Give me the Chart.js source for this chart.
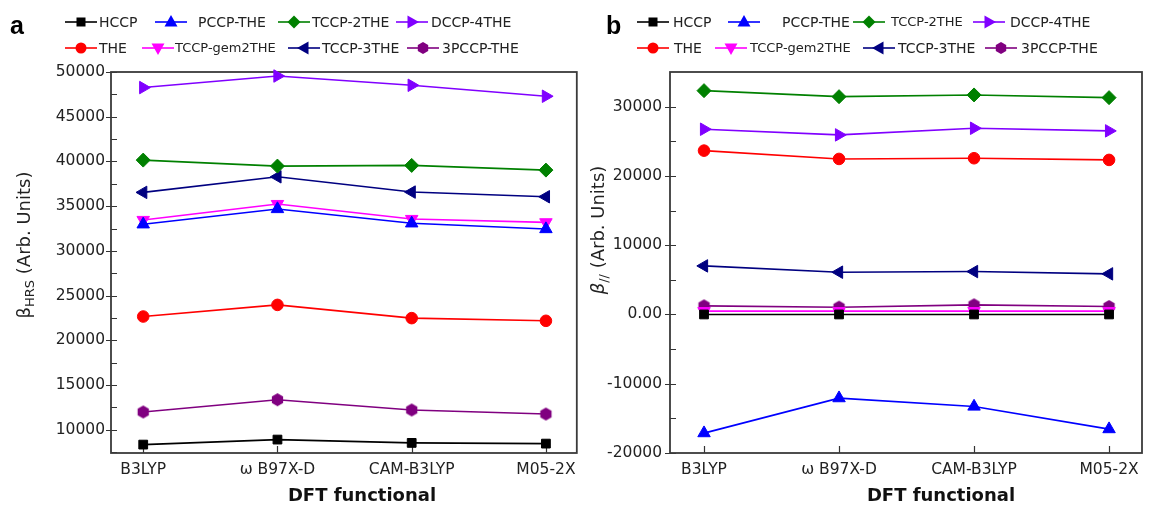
<!DOCTYPE html>
<html>
<head>
<meta charset="utf-8">
<script src="https://cdn.jsdelivr.net/npm/chart.js@4.4.1/dist/chart.umd.min.js"></script>
<style>
  body { margin: 0; width: 1151px; height: 507px; overflow: hidden; background: #fff;
         font-family: "DejaVu Sans", Verdana, sans-serif; color: #222; position: relative; }
  .panel { position: absolute; top: 0; height: 507px; }
  .tag { position: absolute; font-family: "Liberation Sans", Arial, sans-serif; font-weight: bold; font-size: 25px; line-height: 28px; color: #000; }
  .ytitle { position: absolute; white-space: nowrap; font-size: 18px; line-height: 20px; transform: translate(-50%, -50%) rotate(-90deg); }
  .ytitle sub { font-size: 13px; }
  .xtitle { position: absolute; font-weight: bold; font-size: 18px; transform: translateX(-50%); white-space: nowrap; color: #111; }
  .leg { position: absolute; font-size: 14px; line-height: 18px; white-space: nowrap; }
  .leg.small { font-size: 13px; }
  .legline { position: absolute; }
</style>
</head>
<body>
<div class="panel" style="left:0;width:585px"><canvas id="chartA" width="585" height="507"></canvas></div>
<div class="panel" style="left:585px;width:566px"><canvas id="chartB" width="566" height="507"></canvas></div>

<div class="tag" style="left:10px;top:11px">a</div>
<div class="tag" style="left:606px;top:11px">b</div>
<div class="ytitle" style="left:27px;top:245px">β<sub>HRS</sub> (Arb. Units)</div>
<div class="ytitle" style="left:601px;top:230px"><i>β</i><sub>//</sub> (Arb. Units)</div>
<div class="xtitle" style="left:362px;top:484px">DFT functional</div>
<div class="xtitle" style="left:941px;top:484px">DFT functional</div>
<div id="legends"></div>

<script>
// categories
const functionals = ['B3LYP', 'ω B97X-D', 'CAM-B3LYP', 'M05-2X'];

// series names / colours / marker shapes
const seriesNames = ['HCCP', 'PCCP-THE', 'TCCP-2THE', 'DCCP-4THE', 'THE', 'TCCP-gem2THE', 'TCCP-3THE', '3PCCP-THE'];
const seriesColors = ['#000000', '#0000ff', '#008000', '#8000ff', '#ff0000', '#ff00ff', '#000080', '#800080'];
const seriesShapes = ['square', 'up', 'diamond', 'right', 'circle', 'down', 'left', 'hexagon'];

// panel a: beta HRS
const hrsHCCP = [8340, 8900, 8530, 8450];
const hrsPCCP = [32970, 34680, 33080, 32440];
const hrsTCCP2 = [40150, 39480, 39555, 39030];
const hrsDCCP4 = [48260, 49550, 48515, 47290];
const hrsTHE = [22660, 23960, 22480, 22180];
const hrsGem2 = [33450, 35235, 33560, 33190];
const hrsTCCP3 = [36540, 38280, 36575, 36050];
const hrs3PCCP = [11990, 13360, 12210, 11760];

// panel b: beta parallel
const parHCCP = [0, 0, 0, 0];
const parPCCP = [-17130, -12080, -13290, -16550];
const parTCCP2 = [32310, 31440, 31690, 31300];
const parDCCP4 = [26740, 25920, 26880, 26500];
const parTHE = [23650, 22450, 22550, 22310];
const parGem2 = [480, 480, 480, 480];
const parTCCP3 = [7010, 6100, 6190, 5860];
const par3PCCP = [1240, 1050, 1390, 1140];

// tick labels
const hrsTicks = [10000, 15000, 20000, 25000, 30000, 35000, 40000, 45000, 50000];
const hrsMinor = [7500, 12500, 17500, 22500, 27500, 32500, 37500, 42500, 47500];
const parTicks = [-20000, -10000, 0, 10000, 20000, 30000];
const parTickLabels = ['-20000', '-10000', '0.00', '10000', '20000', '30000'];
const parMinor = [-15000, -5000, 5000, 15000, 25000];

function hexagon(color, r) {
    const c = document.createElement('canvas');
    c.width = c.height = 2 * r + 2;
    const g = c.getContext('2d');
    g.fillStyle = color;
    g.beginPath();
    for (let k = 0; k < 6; k++) {
        const a = Math.PI / 3 * k - Math.PI / 2;
        const px = r + 1 + r * Math.cos(a), py = r + 1 + r * Math.sin(a);
        if (k) g.lineTo(px, py); else g.moveTo(px, py);
    }
    g.closePath();
    g.fill();
    return c;
}

// chart.js point style for each marker shape
function pointOpts(shape, color) {
    switch (shape) {
        case 'square': return { pointStyle: 'rect', pointRadius: 6.2, pointRotation: 0 };
        case 'up': return { pointStyle: 'triangle', pointRadius: 7.2, pointRotation: 0 };
        case 'diamond': return { pointStyle: 'rectRot', pointRadius: 7, pointRotation: 0 };
        case 'right': return { pointStyle: 'triangle', pointRadius: 7.2, pointRotation: 90 };
        case 'circle': return { pointStyle: 'circle', pointRadius: 5.8, pointRotation: 0 };
        case 'down': return { pointStyle: 'triangle', pointRadius: 7.2, pointRotation: 180 };
        case 'left': return { pointStyle: 'triangle', pointRadius: 7.2, pointRotation: 270 };
        case 'hexagon': return { pointStyle: hexagon(color, 6.5), pointRadius: 6.5, pointRotation: 0 };
    }
}

function makeDatasets(valueLists) {
    return valueLists.map((vals, s) => Object.assign({
        label: seriesNames[s],
        data: vals.map((v, i) => ({ x: i, y: v })),
        borderColor: seriesColors[s],
        backgroundColor: seriesColors[s],
        pointBackgroundColor: seriesColors[s],
        pointBorderColor: seriesColors[s],
        pointBorderWidth: 1,
        borderWidth: 1.6,
        tension: 0,
        clip: false
    }, pointOpts(seriesShapes[s], seriesColors[s])));
}

// frame + inward tick marks
const framePlugin = {
    id: 'frame',
    beforeDatasetsDraw(chart, args, opts) {
        const { ctx, chartArea: a, scales } = chart;
        ctx.save();
        ctx.strokeStyle = '#333';
        ctx.lineWidth = 1.2;
        ctx.beginPath();
        opts.major.forEach(v => {
            const y = Math.round(scales.y.getPixelForValue(v)) + 0.5;
            ctx.moveTo(a.left - 5, y); ctx.lineTo(a.left + 6, y);
        });
        opts.minor.forEach(v => {
            const y = Math.round(scales.y.getPixelForValue(v)) + 0.5;
            ctx.moveTo(a.left, y); ctx.lineTo(a.left + 6, y);
        });
        functionals.forEach((f, i) => {
            const x = Math.round(scales.x.getPixelForValue(i)) + 0.5;
            ctx.moveTo(x, a.bottom); ctx.lineTo(x, a.bottom - 7);
        });
        ctx.stroke();
        ctx.lineWidth = 1.8;
        ctx.strokeStyle = '#3a3a3a';
        ctx.strokeRect(a.left, a.top, a.right - a.left, a.bottom - a.top);
        ctx.restore();
    }
};

function makeChart(id, datasets, cfg) {
    return new Chart(document.getElementById(id).getContext('2d'), {
        type: 'line',
        data: { datasets: datasets },
        plugins: [framePlugin],
        options: {
            responsive: false,
            animation: false,
            layout: { padding: { top: cfg.top, right: cfg.right, left: 0, bottom: 0 } },
            plugins: {
                legend: { display: false },
                tooltip: { enabled: false },
                frame: { major: cfg.ticks, minor: cfg.minor }
            },
            scales: {
                x: {
                    type: 'linear',
                    min: cfg.xMin,
                    max: cfg.xMax,
                    grid: { display: false, drawTicks: false },
                    border: { display: false },
                    afterBuildTicks: s => { s.ticks = functionals.map((f, i) => ({ value: i })); },
                    ticks: { padding: 8, color: '#222', font: { size: 15.5, family: '"DejaVu Sans"' },
                             maxRotation: 0, autoSkip: false, callback: v => functionals[v] },
                    afterFit: s => { s.height = 54; }
                },
                y: {
                    min: cfg.yMin,
                    max: cfg.yMax,
                    grid: { display: false, drawTicks: false },
                    border: { display: false },
                    afterBuildTicks: s => { s.ticks = cfg.ticks.map(v => ({ value: v })); },
                    ticks: { padding: cfg.pad, color: '#222', font: { size: 15.5, family: '"DejaVu Sans"' },
                             callback: (v, i) => cfg.labels[i] },
                    afterFit: s => { s.width = cfg.left; }
                }
            }
        }
    });
}

makeChart('chartA',
    makeDatasets([hrsHCCP, hrsPCCP, hrsTCCP2, hrsDCCP4, hrsTHE, hrsGem2, hrsTCCP3, hrs3PCCP]),
    { top: 72, right: 7, left: 111, pad: 6, xMin: -0.24, xMax: 3.23, yMin: 7400, yMax: 50000,
      ticks: hrsTicks, labels: hrsTicks.map(String), minor: hrsMinor });

makeChart('chartB',
    makeDatasets([parHCCP, parPCCP, parTCCP2, parDCCP4, parTHE, parGem2, parTCCP3, par3PCCP]),
    { top: 72, right: 9, left: 85, pad: 8, xMin: -0.252, xMax: 3.244, yMin: -20000, yMax: 35000,
      ticks: parTicks, labels: parTickLabels, minor: parMinor });

// legends (html, line + marker + name)
function markerSvg(shape, color) {
    const c = 16, r = 6;
    let m;
    switch (shape) {
        case 'square': m = `<rect x="${c - 4.5}" y="${8 - 4.5}" width="9" height="9" fill="${color}"/>`; break;
        case 'circle': m = `<circle cx="${c}" cy="8" r="5.5" fill="${color}"/>`; break;
        case 'diamond': m = `<polygon points="${c},1.5 ${c + 6.5},8 ${c},14.5 ${c - 6.5},8" fill="${color}"/>`; break;
        case 'up': m = `<polygon points="${c},1 ${c + 6.5},12.5 ${c - 6.5},12.5" fill="${color}"/>`; break;
        case 'down': m = `<polygon points="${c},15 ${c + 6.5},3.5 ${c - 6.5},3.5" fill="${color}"/>`; break;
        case 'right': m = `<polygon points="${c + 7},8 ${c - 4.5},1.5 ${c - 4.5},14.5" fill="${color}"/>`; break;
        case 'left': m = `<polygon points="${c - 7},8 ${c + 4.5},1.5 ${c + 4.5},14.5" fill="${color}"/>`; break;
        case 'hexagon': {
            const pts = [];
            for (let k = 0; k < 6; k++) {
                const a = Math.PI / 3 * k - Math.PI / 2;
                pts.push((c + r * Math.cos(a)).toFixed(1) + ',' + (8 + r * Math.sin(a)).toFixed(1));
            }
            m = `<polygon points="${pts.join(' ')}" fill="${color}"/>`;
        }
    }
    return `<svg width="32" height="16" xmlns="http://www.w3.org/2000/svg">
        <line x1="0" y1="8" x2="32" y2="8" stroke="${color}" stroke-width="1.6"/>${m}</svg>`;
}

// [line x, text x, row y, small font]
const legendLayout = [
    [[65, 99, 22, 0], [155, 198, 22, 0], [278, 312, 22, 0], [396, 431, 22, 0],
     [65, 99, 48, 0], [142, 175, 48, 1], [288, 322, 48, 0], [407, 442, 48, 0]],
    [[637, 673, 22, 0], [728, 782, 22, 0], [853, 891, 22, 1], [973, 1010, 22, 0],
     [637, 674, 48, 0], [715, 750, 48, 1], [863, 898, 48, 0], [985, 1021, 48, 0]]
];

let html = '';
legendLayout.forEach(panel => {
    panel.forEach((p, s) => {
        html += `<div class="legline" style="left:${p[0]}px;top:${p[2] - 8}px">${markerSvg(seriesShapes[s], seriesColors[s])}</div>`;
        html += `<div class="leg${p[3] ? ' small' : ''}" style="left:${p[1]}px;top:${p[2] - 9}px">${seriesNames[s]}</div>`;
    });
});
document.getElementById('legends').innerHTML = html;
</script>
</body>
</html>
